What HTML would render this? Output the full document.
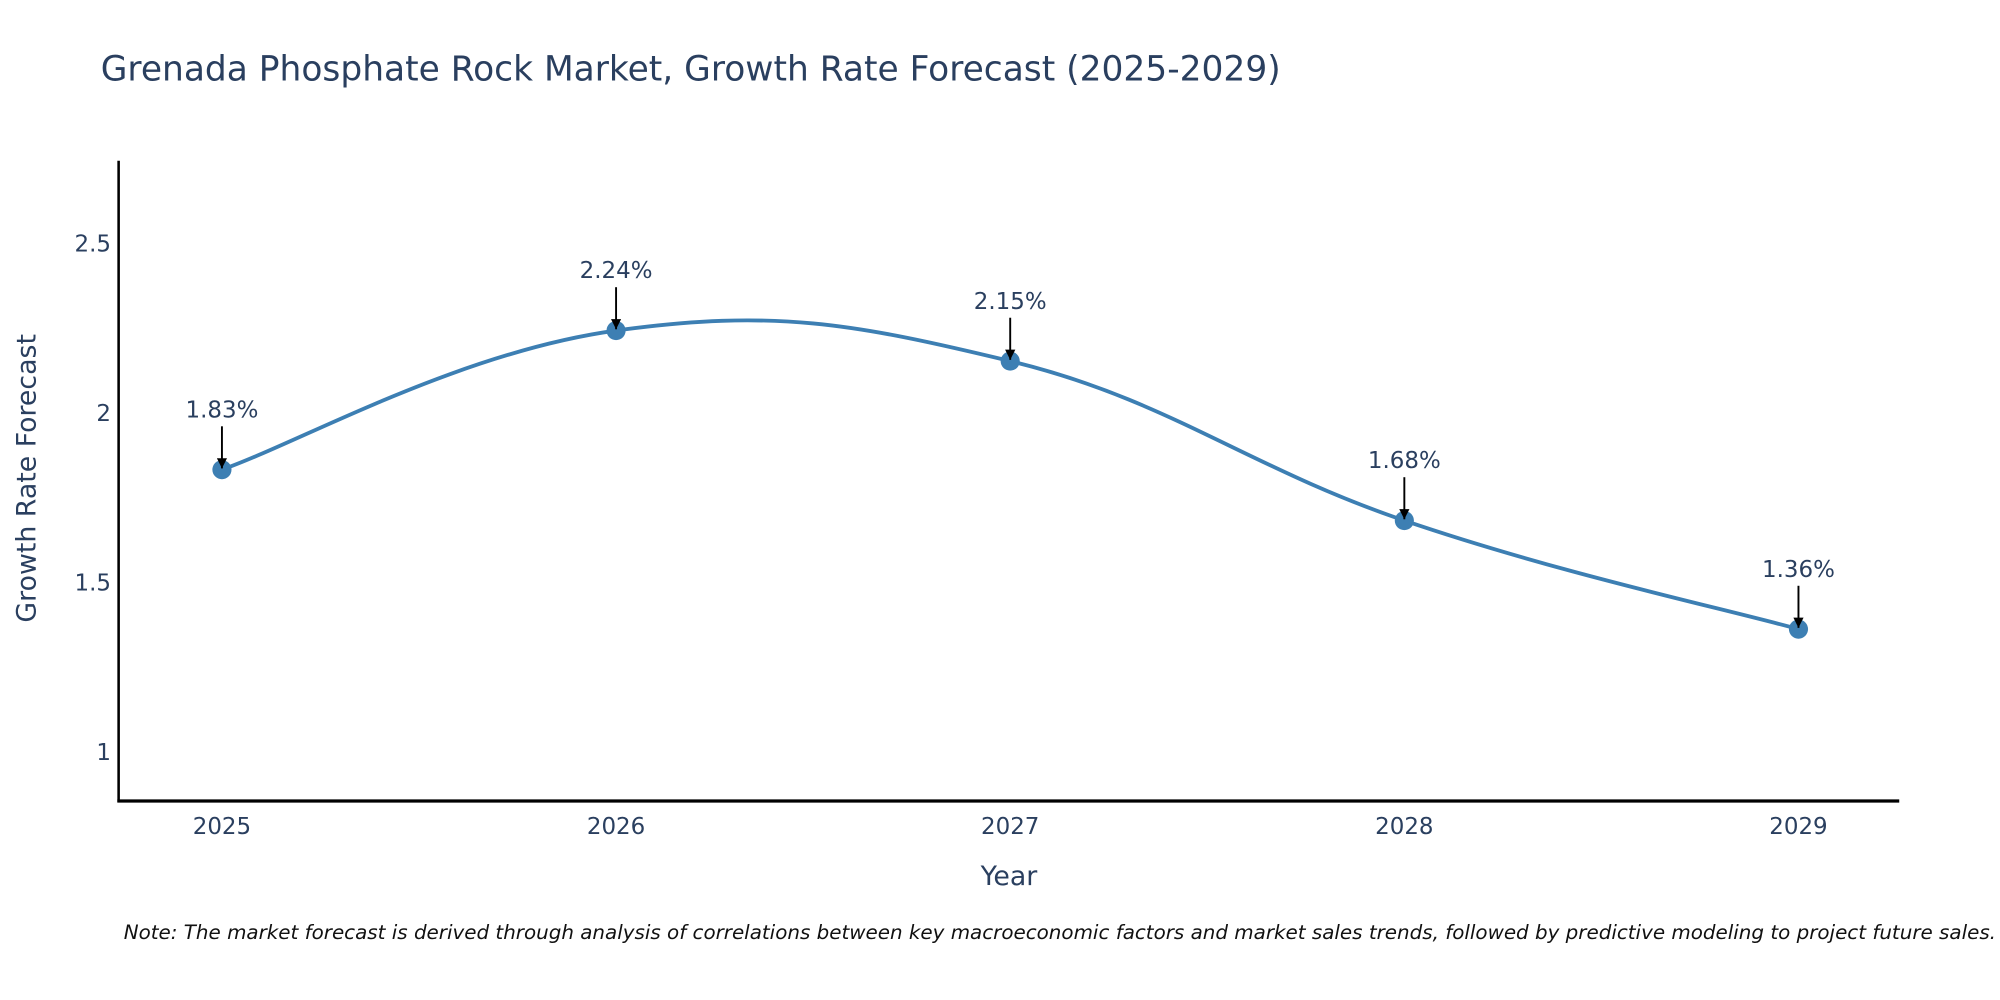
<!DOCTYPE html>
<html><head><meta charset="utf-8"><style>
html,body{margin:0;padding:0;background:#fff;}
svg{display:block;}
text{font-family:"DejaVu Sans","Liberation Sans",sans-serif;fill:#2a3f5f;}
</style></head><body>
<svg id="chart" width="2000" height="1000" viewBox="0 0 1568 784" preserveAspectRatio="none" xmlns="http://www.w3.org/2000/svg">
<defs><marker id="ah" viewBox="0 0 10 10" refX="10" refY="5" markerWidth="8" markerHeight="8" markerUnits="userSpaceOnUse" orient="auto"><path d="M0,0L10,5L0,10z" fill="#000"/></marker></defs>
<text x="79" y="63" font-size="27">Grenada Phosphate Rock Market, Growth Rate Forecast (2025-2029)</text>
<g id="yticks"></g><g id="xticks"></g>
<line x1="93" y1="126" x2="93" y2="629" stroke="#000" stroke-width="2"/>
<line x1="92" y1="628" x2="1489" y2="628" stroke="#000" stroke-width="2.5"/>
<path id="line" fill="none" stroke="#3d7fb3" stroke-width="3"/>
<g id="marks"></g>
<text transform="translate(28,375) rotate(-90)" text-anchor="middle" font-size="21">Growth Rate Forecast</text>
<text x="791" y="694" text-anchor="middle" font-size="21">Year</text>
<text x="97" y="736" font-size="15.6" font-style="italic" style="fill:#111">Note: The market forecast is derived through analysis of correlations between key macroeconomic factors and market sales trends, followed by predictive modeling to project future sales.</text>
</svg>
<script>
const years = [2025, 2026, 2027, 2028, 2029];
const values = [1.83, 2.24, 2.15, 1.68, 1.36];
const labels = ["1.83%", "2.24%", "2.15%", "1.68%", "1.36%"];
const yTicks = [1, 1.5, 2, 2.5];
const yTickLabels = ["1", "1.5", "2", "2.5"];
const NS = "http://www.w3.org/2000/svg";
const X = yr => 174 + (yr - 2025) * 309;
const Y = v => 589 - (v - 1) * 266;
function mk(tag, attrs, parent, txt){const e=document.createElementNS(NS,tag);for(const k in attrs)e.setAttribute(k,attrs[k]);if(txt!=null)e.textContent=txt;parent.appendChild(e);return e;}
const yt=document.getElementById('yticks');
yTicks.forEach((v,i)=>{const t=mk('text',{x:87,y:Y(v)+7,'text-anchor':'end','font-size':18},yt,yTickLabels[i]);

});
const xt=document.getElementById('xticks');
years.forEach(yr=>{const t=mk('text',{x:X(yr),y:654,'text-anchor':'middle','font-size':18},xt,String(yr));

});
const pts=years.map((yr,i)=>[X(yr),Y(values[i])]);
let d=`M${pts[0][0]},${pts[0][1]}`;
const s=0.2;
for(let i=0;i<pts.length-1;i++){const p0=pts[Math.max(i-1,0)],p1=pts[i],p2=pts[i+1],p3=pts[Math.min(i+2,pts.length-1)];
const c1=[p1[0]+(p2[0]-p0[0])*s,p1[1]+(p2[1]-p0[1])*s],c2=[p2[0]-(p3[0]-p1[0])*s,p2[1]-(p3[1]-p1[1])*s];
d+=` C${c1[0]},${c1[1]} ${c2[0]},${c2[1]} ${p2[0]},${p2[1]}`;}
document.getElementById('line').setAttribute('d',d);
const mg=document.getElementById('marks');
pts.forEach((p,i)=>{const c=mk('circle',{cx:p[0],cy:p[1],r:7.5,fill:'#3d7fb3'},mg);


const a=mk('line',{x1:p[0],y1:p[1]-34,x2:p[0],y2:p[1]-1,stroke:'#000','stroke-width':1.5,'marker-end':'url(#ah)'},mg);


const t=mk('text',{x:p[0],y:p[1]-41,'text-anchor':'middle','font-size':18},mg,labels[i]);

});
</script>
</body></html>
